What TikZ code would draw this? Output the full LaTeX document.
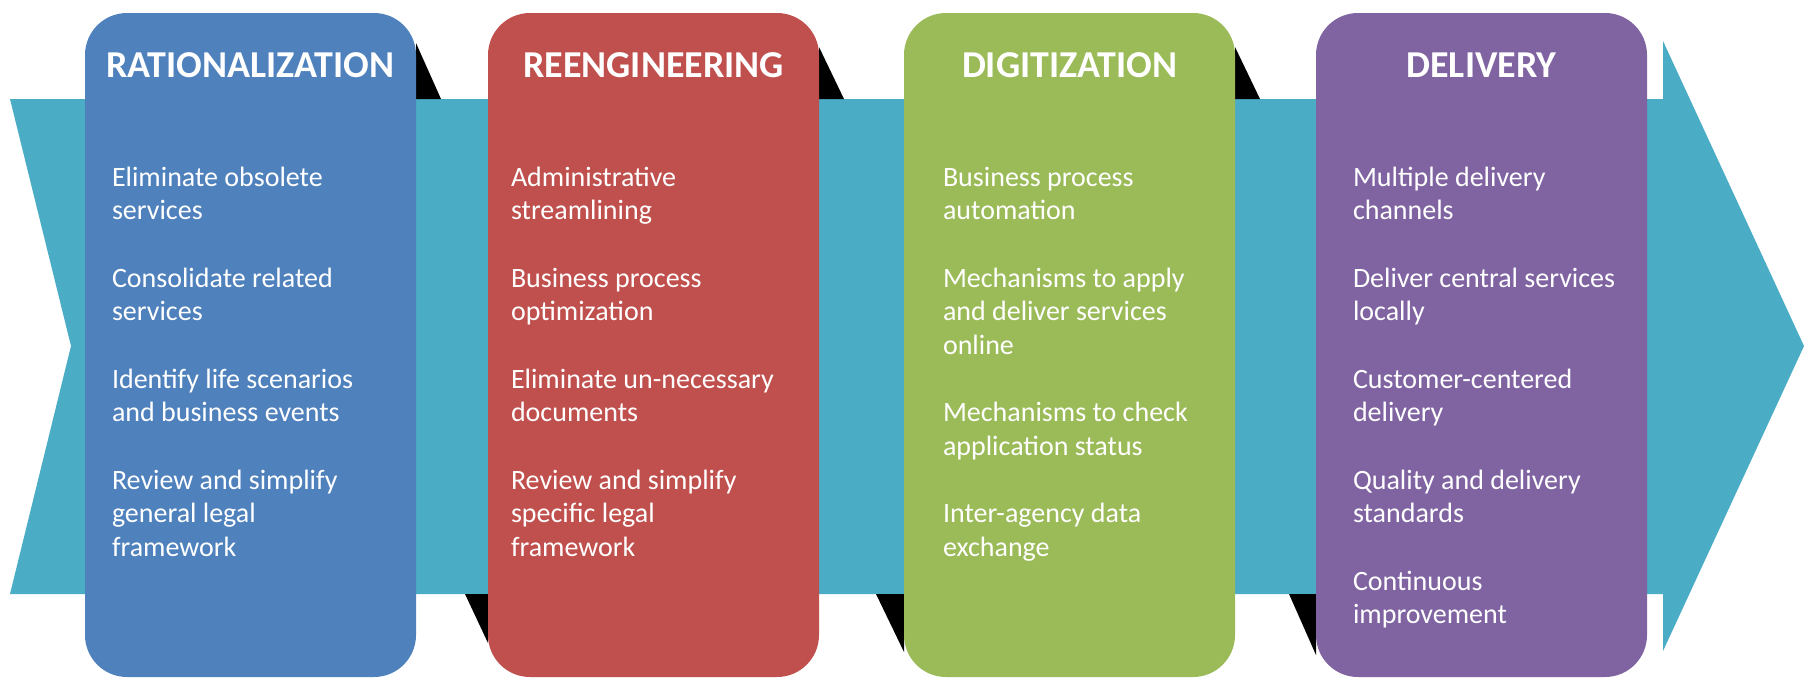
\documentclass[tikz,border=0pt]{standalone}
\usepackage{fontspec}
\setmainfont{Carlito}
\usepackage[HTML]{xcolor}
\usepackage{tikz}
\usetikzlibrary{positioning}

\definecolor{ratblue}{HTML}{4F81BD}
\definecolor{reered}{HTML}{C0504D}
\definecolor{diggreen}{HTML}{9BBB59}
\definecolor{delpurple}{HTML}{8064A2}
\definecolor{flowteal}{HTML}{4BACC6}

\tikzset{
  phase/.style={fill=#1, rounded corners=42pt, minimum width=331pt, minimum height=664pt, inner sep=0pt},
  phasetitle/.style={text=white, font=\fontsize{38}{38}\selectfont\bfseries, anchor=base, inner sep=0pt},
  phaseitems/.style={text=white, font=\fontsize{28}{33.4}\selectfont, align=left, anchor=north west, inner sep=0pt,
    execute at begin node=\rule{0pt}{21pt}},
}

\begin{document}
\begin{tikzpicture}[x=1pt,y=-1pt]
\useasboundingbox (0,0) rectangle (1804,678);
% the big arrow behind
\fill[flowteal] (10,99) -- (1663,99) -- (1663,41) -- (1804,346) -- (1663,651) -- (1663,594) -- (10,594) -- (71,346) -- cycle;
% black wedges in the gaps
\fill[black] (416,43) -- (441,99) -- (416,99) -- cycle;
\fill[black] (465,594) -- (488,594) -- (488,643) -- cycle;
\fill[black] (819,47) -- (844,99) -- (819,99) -- cycle;
\fill[black] (876,594) -- (904,594) -- (904,652) -- cycle;
\fill[black] (1235,47) -- (1260,99) -- (1235,99) -- cycle;
\fill[black] (1289,594) -- (1316,594) -- (1316,655) -- cycle;
% phases
\node[phase=ratblue] (rat) at (250.5,345) {};
\node[phase=reered] (reeng) at (653.5,345) {};
\node[phase=diggreen] (digit) at (1069.5,345) {};
\node[phase=delpurple] (deliv) at (1481.5,345) {};
\node[phasetitle] (ratname) at ([yshift=-65pt]rat.north) {RATIONALIZATION};
\node[phasetitle] (reengname) at ([yshift=-65pt]reeng.north) {REENGINEERING};
\node[phasetitle] (digitname) at ([yshift=-65pt]digit.north) {DIGITIZATION};
\node[phasetitle] (delivname) at ([yshift=-65pt]deliv.north) {DELIVERY};
\node[phaseitems] (ratitems) at ([xshift=27pt,yshift=-154pt]rat.north west)
  {Eliminate obsolete\\services\\[34.2pt]Consolidate related\\services\\[34.2pt]Identify life scenarios\\and business events\\[34.2pt]Review and simplify\\general legal\\framework};
\node[phaseitems] (reengitems) at ([xshift=23pt,yshift=-154pt]reeng.north west)
  {Administrative\\streamlining\\[34.2pt]Business process\\optimization\\[34.2pt]Eliminate un-necessary\\documents\\[34.2pt]Review and simplify\\specific legal\\framework};
\node[phaseitems] (digititems) at ([xshift=39pt,yshift=-154pt]digit.north west)
  {Business process\\automation\\[34.2pt]Mechanisms to apply\\and deliver services\\online\\[34.2pt]Mechanisms to check\\application status\\[34.2pt]Inter-agency data\\exchange};
\node[phaseitems] (delivitems) at ([xshift=37pt,yshift=-154pt]deliv.north west)
  {Multiple delivery\\channels\\[34.2pt]Deliver central services\\locally\\[34.2pt]Customer-centered\\delivery\\[34.2pt]Quality and delivery\\standards\\[34.2pt]Continuous\\improvement};
\end{tikzpicture}
\end{document}
